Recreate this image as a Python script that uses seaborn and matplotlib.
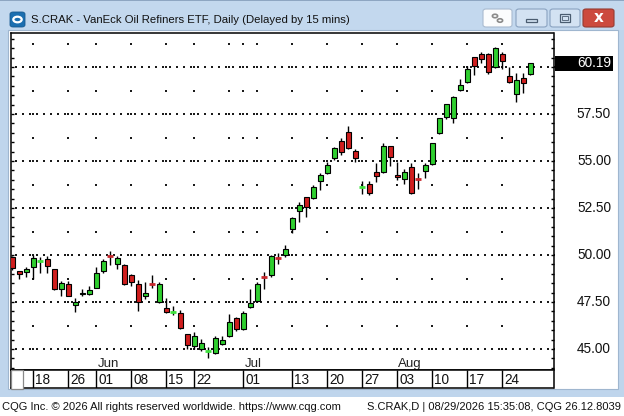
import numpy as np
import pandas as pd
import matplotlib
matplotlib.use("Agg")
import matplotlib.pyplot as plt
import matplotlib.transforms as mtrans
from matplotlib.patches import Rectangle, FancyBboxPatch, Circle
from matplotlib.ticker import MultipleLocator, NullLocator
import seaborn as sns

# ---------------- data (daily OHLC, S.CRAK) ----------------
opens = [49.88, 49.13, 49.11, 49.35, 49.68, 49.77, 49.24, 48.18, 48.46, 47.36,
         47.95, 47.91, 48.26, 49.13, 49.96, 49.52, 49.45, 48.94, 48.46, 47.80,
         48.47, 47.52, 47.16, 46.95, 46.91, 45.78, 45.14, 45.02, 44.88, 44.77,
         45.25, 45.69, 46.66, 46.05, 47.22, 47.57, 48.81, 48.94, 49.86, 50.00,
         51.37, 52.36, 53.07, 53.02, 53.95, 54.38, 55.14, 56.08, 56.53, 55.55,
         53.63, 53.76, 54.40, 54.40, 55.80, 54.26, 54.04, 54.66, 54.04, 54.48,
         54.82, 56.47, 57.32, 57.27, 58.78, 59.22, 60.52, 60.68, 60.68, 59.98,
         60.69, 59.52, 58.55, 59.40, 59.61]
highs = [49.95, 49.16, 49.35, 50.00, 49.91, 49.96, 49.26, 48.63, 48.63, 47.70,
         48.18, 48.37, 49.35, 49.77, 50.23, 49.96, 49.50, 49.00, 48.67, 48.55,
         48.94, 48.55, 47.73, 47.30, 47.07, 45.82, 45.92, 45.52, 45.12, 45.69,
         45.69, 46.86, 46.70, 47.00, 48.18, 48.55, 49.11, 50.00, 50.09, 50.53,
         52.00, 52.84, 53.10, 53.72, 54.38, 54.96, 55.75, 56.21, 56.86, 55.62,
         53.94, 53.94, 54.91, 55.97, 55.82, 54.96, 54.56, 54.91, 54.38, 54.91,
         55.98, 57.30, 58.05, 58.45, 59.35, 60.05, 60.55, 60.81, 60.73, 61.08,
         60.81, 60.02, 59.70, 59.66, 60.22]
lows = [49.20, 48.71, 48.81, 48.71, 49.06, 49.03, 48.16, 47.82, 47.82, 46.98,
        47.82, 47.88, 48.22, 49.05, 49.47, 49.24, 48.40, 48.37, 47.04, 47.64,
        48.23, 47.45, 46.90, 46.81, 46.05, 44.98, 44.98, 44.89, 44.50, 44.75,
        45.20, 45.65, 45.98, 46.00, 47.20, 47.52, 48.18, 48.81, 49.52, 49.91,
        51.19, 51.77, 52.04, 52.98, 53.46, 54.30, 55.05, 55.32, 55.65, 54.96,
        53.23, 53.19, 53.90, 54.38, 54.73, 53.99, 53.78, 53.24, 53.49, 54.08,
        54.80, 56.45, 57.22, 57.01, 58.75, 59.16, 59.56, 60.20, 59.63, 59.95,
        59.88, 59.17, 58.15, 58.63, 59.58]
closes = [49.29, 48.97, 49.26, 49.82, 49.68, 49.41, 48.18, 48.49, 47.84, 47.50,
          47.98, 48.14, 49.03, 49.66, 49.96, 49.82, 48.44, 48.58, 47.52, 47.98,
          48.47, 48.46, 46.98, 46.95, 46.13, 45.23, 45.69, 45.30, 44.88, 45.57,
          45.48, 46.42, 46.05, 46.93, 47.43, 48.46, 48.81, 49.96, 49.86, 50.30,
          51.95, 52.64, 52.57, 53.60, 54.26, 54.77, 55.68, 55.49, 55.68, 55.14,
          53.63, 53.31, 54.22, 55.80, 55.20, 54.13, 54.40, 53.31, 54.04, 54.79,
          55.97, 57.27, 58.02, 58.42, 59.04, 59.88, 60.07, 60.41, 59.72, 61.00,
          60.34, 59.19, 59.31, 59.13, 60.19]
# colour of bars whose open equals close (up / down versus prior bar)
doji_up = [4, 23, 28, 50]
doji_down = [14, 20, 36, 38, 58]

tick_idx = [3, 8, 12, 17, 22, 26, 33, 40, 45, 50, 55, 60, 65, 70]
tick_labels = ["18", "26", "01", "08", "15", "22", "01", "13", "20", "27",
               "03", "10", "17", "24"]
week_idx = [3, 8, 12, 17, 22, 26, 31, 33, 35, 40, 45, 50, 55, 60, 65, 70]
month_idx = [12, 33, 55]
month_labels = ["Jun", "Jul", "Aug"]
price_levels = [45.0, 47.5, 50.0, 52.5, 55.0, 57.5]
grid_levels = [45.0, 47.5, 50.0, 52.5, 55.0, 57.5, 60.0]
last_price = 60.19
title = "S.CRAK - VanEck Oil Refiners ETF, Daily (Delayed by 15 mins)"
footer_left = "CQG Inc. \u00a9 2026 All rights reserved worldwide. https://www.cqg.com"
footer_right = "S.CRAK,D | 08/29/2026 15:35:08, CQG 26.12.8039"

# ---------------- style ----------------
sns.set_theme(style="white")
plt.rcParams["font.family"] = ["Liberation Sans", "DejaVu Sans"]

GREEN = "#2fcf2f"
RED = "#d01e1e"
DOJI_GREEN = "#3ee23e"
DOJI_RED = "#c8282d"
FRAME = "#bfd5ec"

W, H = 624, 416
fig = plt.figure(figsize=(6.24, 4.16), dpi=100, facecolor=FRAME)


def fx(px):
    return px / W


def fy(py):
    return 1 - py / H


def frect(x0, y0, x1, y1, rounded=False, z=2, **kw):
    if rounded:
        p = FancyBboxPatch((fx(x0), fy(y1)), fx(x1) - fx(x0), fy(y0) - fy(y1),
                           boxstyle="round,pad=0,rounding_size=0.005",
                           transform=fig.transFigure, zorder=z, **kw)
    else:
        p = Rectangle((fx(x0), fy(y1)), fx(x1) - fx(x0), fy(y0) - fy(y1),
                      transform=fig.transFigure, zorder=z, **kw)
    fig.patches.append(p)
    return p


# window chrome (behind the axes)
frect(0, 0, 624, 30, z=-3, facecolor="#c3d8ee", edgecolor="none")
frect(0, 0, 624, 1.2, z=-2, facecolor="#8ea6c2", edgecolor="none")
frect(8, 30, 617.5, 389, z=-2, facecolor="white", edgecolor="#9fb6cf", linewidth=0.8)
frect(0, 397, 624, 416, z=-2, facecolor="white", edgecolor="none")

# title icon
frect(10, 12, 25, 27, rounded=True, facecolor="#1c6fb0", edgecolor="#15598f", linewidth=0.6)
fig.patches.append(Circle((fx(17.5), fy(19.5)), 4.2 / W, transform=fig.transFigure,
                          facecolor="none", edgecolor="white", linewidth=1.6, zorder=3))
fig.text(fx(31), fy(20), title, fontsize=8.2, color="#111111", va="center", ha="left",
         family=["Liberation Sans", "DejaVu Sans"])

# title buttons
frect(483, 9, 512, 27, rounded=True, facecolor="#fbfcfd", edgecolor="#a9bbd0", linewidth=0.8)
fig.patches.append(Circle((fx(495), fy(16)), 2.6 / W, transform=fig.transFigure,
                          facecolor="none", edgecolor="#8a8a8a", linewidth=1.2, zorder=3))
fig.patches.append(Circle((fx(500), fy(20.5)), 2.6 / W, transform=fig.transFigure,
                          facecolor="none", edgecolor="#8a8a8a", linewidth=1.2, zorder=3))
frect(516, 9, 547, 27, rounded=True, facecolor="#d3e2f2", edgecolor="#8aa3c1", linewidth=0.8)
frect(526, 19, 537, 22, z=3, facecolor="none", edgecolor="#4a5c70", linewidth=0.9)
frect(550, 9, 580, 27, rounded=True, facecolor="#d3e2f2", edgecolor="#8aa3c1", linewidth=0.8)
frect(560, 14, 570, 22, z=3, facecolor="none", edgecolor="#4a5c70", linewidth=0.9)
frect(562, 16, 568, 20, z=3, facecolor="none", edgecolor="#4a5c70", linewidth=0.6)
frect(583, 9, 614, 27, rounded=True, facecolor="#cc4a3e", edgecolor="#963a31", linewidth=0.8)
fig.text(fx(598.5), fy(18), "x", fontsize=11, fontweight="bold", color="white",
         ha="center", va="center", family=["DejaVu Sans"])

# ---------------- main price axes ----------------
ax = fig.add_axes([fx(10.5), fy(370), fx(553.5) - fx(10.5), fy(33) - fy(370)])
ax.set_facecolor("white")
ax.set_xlim(-0.26, 77.3)
ax.set_ylim(43.883, 61.809)

df = pd.DataFrame({"open": opens, "high": highs, "low": lows, "close": closes})
df["i"] = np.arange(len(df))
df["kind"] = np.where(df["close"] > df["open"], "up", "down")
df.loc[doji_up, "kind"] = "doji_up"
df.loc[doji_down, "kind"] = "doji_down"

# dotted grid (dots drawn with seaborn)
hx = np.arange(-1, 79) + 0.5
hgrid = pd.DataFrame([(x, lv) for lv in grid_levels for x in hx], columns=["x", "y"])
vy = np.arange(43.75, 62.0, 1.25)
vgrid = pd.DataFrame([(x, y) for x in week_idx for y in vy], columns=["x", "y"])
grid = pd.concat([hgrid, vgrid], ignore_index=True)
sns.scatterplot(data=grid, x="x", y="y", marker="s", s=0.6, color="#1a1a1a",
                linewidth=0, ax=ax, legend=False, zorder=1)

# wicks
ax.vlines(df["i"], df["low"], df["high"], color="black", linewidth=1.0, zorder=2)

# bodies
body = df[df["kind"].isin(["up", "down"])]
bottoms = np.minimum(body["open"], body["close"])
heights = np.abs(body["close"] - body["open"])
colors = np.where(body["kind"] == "up", GREEN, RED)
ax.bar(body["i"], heights, bottom=bottoms, width=0.72, color=colors,
       edgecolor="black", linewidth=0.8, zorder=3)

# doji bars
for kind, col in (("doji_up", DOJI_GREEN), ("doji_down", DOJI_RED)):
    d = df[df["kind"] == kind]
    ax.hlines(d["close"], d["i"] - 0.42, d["i"] + 0.42, color=col, linewidth=2.0, zorder=3)

# month labels inside the plot
bt = mtrans.blended_transform_factory(ax.transData, ax.transAxes)
for mi, ml in zip(month_idx, month_labels):
    ax.text(mi + 0.15, 0.008, ml, transform=bt,
            fontsize=9.5, color="#222222", ha="left", va="baseline")

ax.set_xlabel("")
ax.set_ylabel("")
ax.xaxis.set_major_locator(NullLocator())
ax.yaxis.set_major_locator(MultipleLocator(0.5))
ax.tick_params(axis="y", which="both", direction="in", left=True, right=True,
               length=2.5, width=1, color="black", labelleft=False, labelright=False)
for s in ax.spines.values():
    s.set_color("black")
    s.set_linewidth(1.1)
    s.set_visible(True)

# right price labels
rt = mtrans.blended_transform_factory(fig.transFigure, ax.transData)
for lv in price_levels:
    fig.text(fx(611), lv, f"{lv:.2f}", transform=rt, fontsize=9.8, color="#111111",
             ha="right", va="center")
fig.patches.append(Rectangle((fx(555), last_price - 0.38), fx(613) - fx(555), 0.76,
                             transform=rt, facecolor="black", edgecolor="none", zorder=3))
fig.text(fx(611), last_price, f"{last_price:.2f}", transform=rt, fontsize=9.8,
         color="white", ha="right", va="center", zorder=4)

# ---------------- date row ----------------
axr = fig.add_axes([fx(10.5), fy(388), fx(553.5) - fx(10.5), fy(370) - fy(388)])
axr.set_facecolor("white")
axr.set_xlim(ax.get_xlim())
axr.set_ylim(0, 1)
axr.vlines(tick_idx, 0, 1, color="black", linewidth=1.0)
for ti, tl in zip(tick_idx, tick_labels):
    axr.text(ti + 0.3, 0.45, tl, fontsize=9.8, color="#111111", ha="left", va="center")
axr.set_xticks([])
axr.set_yticks([])
for s in axr.spines.values():
    s.set_color("black")
    s.set_linewidth(1.1)
frect(11, 370, 23, 388.5, z=3, facecolor="white", edgecolor="#8a8a8a", linewidth=0.9)

# footer
fig.text(fx(2), fy(407), footer_left, fontsize=8, color="#111111", ha="left", va="center")
fig.text(fx(621), fy(407), footer_right, fontsize=8, color="#111111", ha="right", va="center")

fig.savefig("out.png", dpi=100, facecolor=FRAME)
